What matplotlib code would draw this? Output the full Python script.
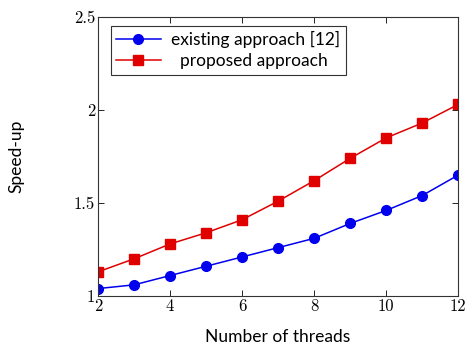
import matplotlib
matplotlib.use("Agg")
import matplotlib.pyplot as plt
from matplotlib.ticker import FuncFormatter

threads = [2, 3, 4, 5, 6, 7, 8, 9, 10, 11, 12]
existing = [1.04, 1.06, 1.11, 1.16, 1.21, 1.26, 1.31, 1.39, 1.46, 1.54, 1.65]
proposed = [1.13, 1.20, 1.28, 1.34, 1.41, 1.51, 1.62, 1.74, 1.85, 1.93, 2.03]
xticks = [2, 4, 6, 8, 10, 12]
yticks = [1, 1.5, 2, 2.5]

fig = plt.figure(figsize=(4.67, 3.44), dpi=100)
ax = fig.add_axes([0.21, 0.1395, 0.771, 0.811])

ax.plot(threads, existing, color="#0000ee", marker="o", markersize=7, lw=1.1,
        label="existing approach [12]")
ax.plot(threads, proposed, color="#e00000", marker="s", markersize=7, lw=1.1,
        label="  proposed approach")

ax.set_xlim(2, 12)
ax.set_ylim(1, 2.5)
ax.set_xticks(xticks)
ax.set_yticks(yticks)
ax.yaxis.set_major_formatter(FuncFormatter(lambda v, p: "%g" % v))
ax.tick_params(direction="in", top=True, right=True, length=4, width=0.6,
               labelsize=12, pad=2)
for lab in ax.get_xticklabels() + ax.get_yticklabels():
    lab.set_fontfamily("cmr10")
for s in ax.spines.values():
    s.set_linewidth(0.8)
    s.set_color("#333333")

ax.set_xlabel("Number of threads", fontfamily="Lato", fontsize=12.5, labelpad=11)
ax.set_ylabel("Speed-up", fontfamily="Lato", fontsize=12.5, labelpad=36)

leg = ax.legend(loc="upper left", bbox_to_anchor=(0.035, 0.968), borderaxespad=0,
                frameon=True, fancybox=False, edgecolor="#333333", framealpha=1,
                prop={"family": "Lato", "size": 12.5}, handlelength=2.6,
                borderpad=0.3, labelspacing=0.3, handletextpad=0.6)
leg.get_frame().set_linewidth(0.8)

fig.savefig("out.png", dpi=100)
